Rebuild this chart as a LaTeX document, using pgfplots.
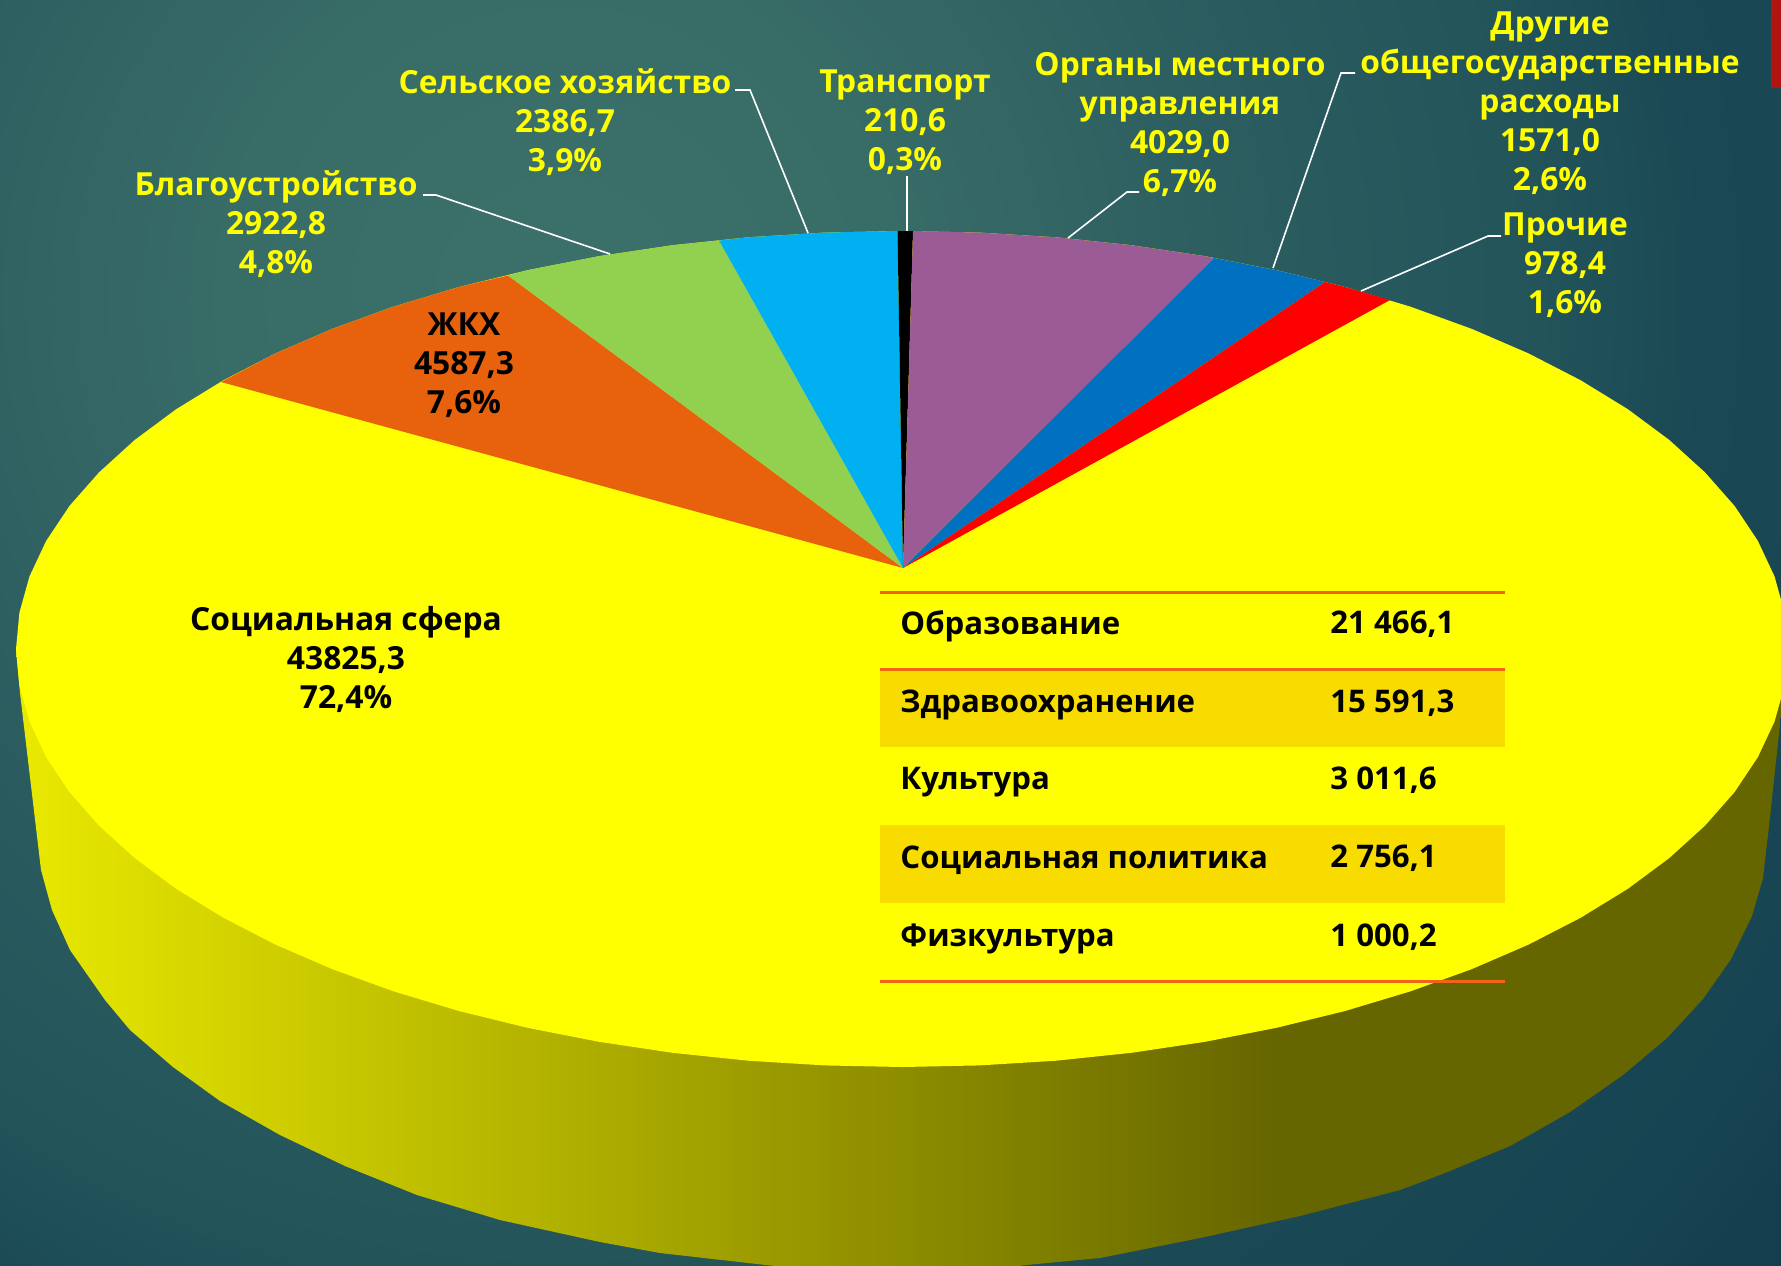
\documentclass[border=0pt]{standalone}
\usepackage{fontspec}
\setmainfont{Open Sans}
\usepackage{pgfplots}
\pgfplotsset{compat=1.18}
\definecolor{bgA}{RGB}{60,112,106}
\definecolor{bgB}{RGB}{56,108,103}
\definecolor{bgC}{RGB}{41,90,94}
\definecolor{bgD}{RGB}{34,84,90}
\definecolor{bgE}{RGB}{26,72,84}
\definecolor{bgE2}{RGB}{23,68,82}
\definecolor{bgF}{RGB}{20,62,78}
\definecolor{wA}{RGB}{233,233,0}
\definecolor{wB}{RGB}{172,172,0}
\definecolor{wC}{RGB}{120,120,0}
\definecolor{wD}{RGB}{102,102,0}
\definecolor{cYellow}{RGB}{255,255,0}
\definecolor{cOrange}{RGB}{232,98,14}
\definecolor{cGreen}{RGB}{146,208,80}
\definecolor{cCyan}{RGB}{0,176,240}
\definecolor{cPurple}{RGB}{155,92,150}
\definecolor{cBlue}{RGB}{0,112,192}
\definecolor{cRed}{RGB}{255,0,0}
\definecolor{cBand}{RGB}{248,220,0}
\definecolor{cLine}{RGB}{240,100,20}
\definecolor{cBlock}{RGB}{178,20,18}
\pgfdeclareradialshading{bgshade}{\pgfpointorigin}{%
  color(0bp)=(bgA);color(6bp)=(bgB);color(13.5bp)=(bgC);color(17.5bp)=(bgD);color(20.5bp)=(bgE);color(25bp)=(bgE2);color(27bp)=(bgF);color(50bp)=(bgF)}
\pgfdeclarehorizontalshading{wallshade}{100bp}{%
  color(0bp)=(wA);color(25bp)=(wA);color(41.5bp)=(wB);color(55.7bp)=(wC);color(60.5bp)=(wD);color(100bp)=(wD)}
\newcommand{\lab}[1]{\fontsize{15.9}{19.5}\selectfont\bfseries #1}
\newcommand{\tab}[1]{\fontsize{15.6}{19.5}\selectfont\bfseries #1}
\begin{document}
\begin{tikzpicture}
\begin{axis}[name=ax,scale only axis,width=890.5pt,height=633pt,
  xmin=0,xmax=1781,ymin=0,ymax=1266,y dir=reverse,hide axis]
% background
\addplot[draw=none,shade,shading=bgshade] coordinates {(-840,-1100) (1960,-1100) (1960,1700) (-840,1700)};
% red block
\addplot[draw=none,fill=cBlock] coordinates {(1771,0) (1781,0) (1781,88) (1771,88)};
% side wall
\addplot[draw=none,shade,shading=wallshade] coordinates {
(16,649) (20,693) (41,870) (52,910) (70,950) (105,1000) (130,1030) (173,1067) (220,1101) (280,1135)
(345,1166) (417,1195) (500,1220) (600,1242) (660,1253) (766,1265) (900,1280) (1026,1265) (1100,1258)
(1200,1238) (1300,1216) (1400,1190) (1445,1173) (1510,1146) (1570,1112) (1623,1075) (1667,1038)
(1703,999) (1731,959) (1752,916) (1763,878) (1770,817) (1781,715) (1788,649)};
% top face (Социальная сфера, 72,4%)
\addplot[draw=none,fill=cYellow] coordinates {
(1788,649) (1784.6,685.4) (1774.5,721.6) (1757.8,757.2) (1734.6,792) (1705,825.6) (1669.3,858) (1627.8,888.8)
(1580.7,917.7) (1528.5,944.6) (1471.5,969.2) (1410.2,991.4) (1345,1011) (1276.4,1027.8) (1205,1041.8)
(1131.3,1052.8) (1055.8,1060.7) (979.3,1065.4) (902,1067)
(824.7,1065.4) (748.2,1060.7) (672.7,1052.8) (599,1041.8) (527.6,1027.8) (459,1011) (393.8,991.4) (332.5,969.2)
(275.5,944.6) (223.3,917.7) (176.2,888.8) (134.7,858) (99,825.6) (69.4,792) (46.2,757.2) (29.5,721.6) (19.4,685.4) (16,649)
(19.4,612.6) (29.5,576.4) (46.2,540.8) (69.4,506) (99,472.4) (134.7,440) (176.2,409.2) (223.3,380.3) (275.5,353.4)
(332.5,328.8) (393.8,306.6) (459,287) (527.6,270.2) (599,256.2) (672.7,245.2) (748.2,237.3) (824.7,232.6) (902,231)
(979.3,232.6) (1055.8,237.3) (1131.3,245.2) (1205,256.2) (1276.4,270.2) (1345,287) (1410.2,306.6) (1471.5,328.8)
(1528.5,353.4) (1580.7,380.3) (1627.8,409.2) (1669.3,440) (1705,472.4) (1734.6,506) (1757.8,540.8) (1774.5,576.4) (1784.6,612.6)};
% slices
\addplot[draw=none,fill=cOrange] coordinates {(903,568) (221,382) (275.5,353.4) (332.5,328.8) (393.8,306.6) (459,287) (508,275.5)};
\addplot[draw=none,fill=cGreen] coordinates {(903,568) (508,275.5) (527.6,270.2) (599,256.2) (672.7,245.2) (719,240.5)};
\addplot[draw=none,fill=cCyan] coordinates {(903,568) (719,240.5) (748.2,237.3) (824.7,232.6) (897.5,231)};
\addplot[draw=none,fill=black] coordinates {(903,568) (897.5,231) (902,231) (913,231)};
\addplot[draw=none,fill=cPurple] coordinates {(903,568) (913,231) (979.3,232.6) (1055.8,237.3) (1131.3,245.2) (1205,256.2) (1214,258)};
\addplot[draw=none,fill=cBlue] coordinates {(903,568) (1214,258) (1276.4,270.2) (1325,282)};
\addplot[draw=none,fill=cRed] coordinates {(903,568) (1325,282) (1345,287) (1390,300)};
% leaders
\addplot[white,line width=0.8pt] coordinates {(423,195) (436,195) (610,254)};
\addplot[white,line width=0.8pt] coordinates {(735,90) (750,90) (808,233)};
\addplot[white,line width=0.8pt] coordinates {(907,176) (907,231)};
\addplot[white,line width=0.8pt] coordinates {(1139,192) (1127,192) (1068,238)};
\addplot[white,line width=0.8pt] coordinates {(1355,73) (1341,73) (1273,268)};
\addplot[white,line width=0.8pt] coordinates {(1501,236) (1488,236) (1361,291)};
% table
\addplot[draw=none,fill=cBand] coordinates {(880,669) (1505,669) (1505,747) (880,747)};
\addplot[draw=none,fill=cBand] coordinates {(880,825) (1505,825) (1505,902.5) (880,902.5)};
\addplot[cLine,line width=1.5pt] coordinates {(880,592) (1505,592)};
\addplot[cLine,line width=1.5pt] coordinates {(880,669) (1505,669)};
\addplot[cLine,line width=1.5pt] coordinates {(880,981.5) (1505,981.5)};
% labels
\tikzset{yl/.style={text=cYellow,align=center,inner sep=0pt,font=\lab{}},
         kl/.style={text=black,align=center,inner sep=0pt,font=\lab{}},
         tl/.style={text=black,anchor=west,inner sep=0pt,font=\tab{}}}
\node[yl] at (axis cs:276,224.5) {Благоустройство\\2922,8\\4,8\%};
\node[yl] at (axis cs:565,122.5) {Сельское хозяйство\\2386,7\\3,9\%};
\node[yl] at (axis cs:905,122.5) {Транспорт\\210,6\\0,3\%};
\node[yl] at (axis cs:1180,124.5) {Органы местного\\управления\\4029,0\\6,7\%};
\node[yl] at (axis cs:1550,103.5) {Другие\\общегосударственные\\расходы\\1571,0\\2,6\%};
\node[yl] at (axis cs:1565,265.5) {Прочие\\978,4\\1,6\%};
\node[kl] at (axis cs:464,365.5) {ЖКХ\\4587,3\\7,6\%};
\node[kl] at (axis cs:346,659.5) {Социальная сфера\\43825,3\\72,4\%};
\node[tl] at (axis cs:900,626) {Образование};
\node[tl] at (axis cs:900,705) {Здравоохранение};
\node[tl] at (axis cs:900,782) {Культура};
\node[tl] at (axis cs:900,860) {Социальная политика};
\node[tl] at (axis cs:900,939) {Физкультура};
\node[tl] at (axis cs:1330,624.5) {21 466,1};
\node[tl] at (axis cs:1330,703.5) {15 591,3};
\node[tl] at (axis cs:1330,780.5) {3 011,6};
\node[tl] at (axis cs:1330,858.5) {2 756,1};
\node[tl] at (axis cs:1330,937.5) {1 000,2};
\end{axis}
\pgfresetboundingbox
\useasboundingbox (ax.south west) rectangle (ax.north east);
\end{tikzpicture}
\end{document}
